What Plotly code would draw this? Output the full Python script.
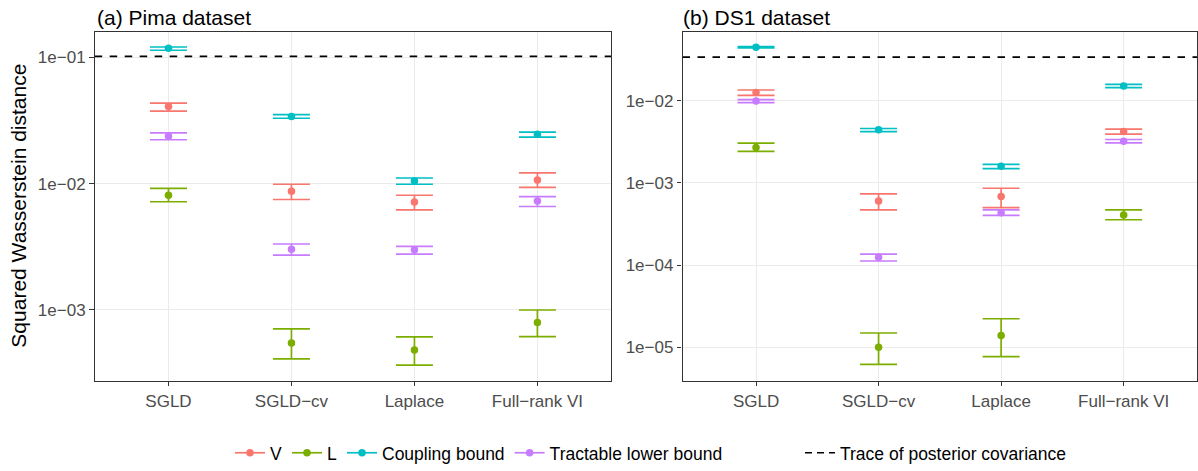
import plotly.graph_objects as go

categories = ["SGLD", "SGLD\u2212cv", "Laplace", "Full\u2212rank VI"]
series_names = ["V", "L", "Coupling bound", "Tractable lower bound"]
series_colors = ["#F8766D", "#7CAE00", "#00BFC4", "#C77CFF"]

# Panel (a) Pima dataset
pima_V_mean = [0.0408, 0.0087, 0.00716, 0.0107]
pima_V_lo = [0.0376, 0.0075, 0.0062, 0.00936]
pima_V_hi = [0.0434, 0.0099, 0.0081, 0.0122]
pima_L_mean = [0.0081, 0.000547, 0.000482, 0.000797]
pima_L_lo = [0.0072, 0.00041, 0.000366, 0.000616]
pima_L_hi = [0.0092, 0.000708, 0.000612, 0.0010]
pima_C_mean = [0.118, 0.0341, 0.0105, 0.0246]
pima_C_lo = [0.114, 0.0330, 0.0099, 0.0234]
pima_C_hi = [0.121, 0.0352, 0.0111, 0.0256]
pima_T_mean = [0.0238, 0.00303, 0.0030, 0.00731]
pima_T_lo = [0.0223, 0.00272, 0.00277, 0.0066]
pima_T_hi = [0.0253, 0.00333, 0.00319, 0.0079]
pima_trace = 0.102

# Panel (b) DS1 dataset
ds1_V_mean = [0.0126, 0.000601, 0.000684, 0.00423]
ds1_V_lo = [0.0116, 0.00047, 0.000501, 0.00393]
ds1_V_hi = [0.0135, 0.000735, 0.00086, 0.00451]
ds1_L_mean = [0.0027, 1.0e-5, 1.39e-5, 0.000406]
ds1_L_lo = [0.00242, 6.2e-6, 7.7e-6, 0.000356]
ds1_L_hi = [0.00304, 1.49e-5, 2.22e-5, 0.00047]
ds1_C_mean = [0.0446, 0.00443, 0.00159, 0.0151]
ds1_C_lo = [0.0438, 0.00420, 0.00149, 0.0144]
ds1_C_hi = [0.0455, 0.00459, 0.00168, 0.0158]
ds1_T_mean = [0.0099, 0.000124, 0.000433, 0.00321]
ds1_T_lo = [0.0095, 0.000112, 0.000402, 0.00307]
ds1_T_hi = [0.0103, 0.000136, 0.00047, 0.00337]
ds1_trace = 0.0339

pima_ticks = [1e-3, 1e-2, 1e-1]
pima_ticktext = ["1e\u221203", "1e\u221202", "1e\u221201"]
ds1_ticks = [1e-5, 1e-4, 1e-3, 1e-2]
ds1_ticktext = ["1e\u221205", "1e\u221204", "1e\u221203", "1e\u221202"]

FONT = "Liberation Sans, Arial, Helvetica, sans-serif"
W, H = 1198, 471

panels = [
    dict(xa="x", ya="y", series=[(pima_V_mean, pima_V_lo, pima_V_hi),
                                 (pima_L_mean, pima_L_lo, pima_L_hi),
                                 (pima_C_mean, pima_C_lo, pima_C_hi),
                                 (pima_T_mean, pima_T_lo, pima_T_hi)],
         trace=pima_trace, hx="x3"),
    dict(xa="x2", ya="y2", series=[(ds1_V_mean, ds1_V_lo, ds1_V_hi),
                                   (ds1_L_mean, ds1_L_lo, ds1_L_hi),
                                   (ds1_C_mean, ds1_C_lo, ds1_C_hi),
                                   (ds1_T_mean, ds1_T_lo, ds1_T_hi)],
         trace=ds1_trace, hx="x4"),
]

fig = go.Figure()

for p in panels:
    # dashed reference line spanning panel width on overlay linear x-axis
    fig.add_trace(go.Scatter(
        x=[0, 1], y=[p["trace"], p["trace"]], xaxis=p["hx"], yaxis=p["ya"],
        mode="lines", line=dict(color="black", width=1.6, dash="7.5px,7.5px"),
        showlegend=False, hoverinfo="skip"))
    for (mean, lo, hi), name, col in zip(p["series"], series_names, series_colors):
        fig.add_trace(go.Scatter(
            x=categories, y=mean, xaxis=p["xa"], yaxis=p["ya"],
            mode="markers", marker=dict(color=col, size=7.5),
            error_y=dict(type="data", symmetric=False,
                         array=[h - m for h, m in zip(hi, mean)],
                         arrayminus=[m - l for m, l in zip(mean, lo)],
                         color=col, thickness=1.7, width=18.5),
            showlegend=False, name=name))

# legend entries
for name, col in zip(series_names, series_colors):
    fig.add_trace(go.Scatter(x=[None], y=[None], mode="lines+markers", name=name,
                             line=dict(color=col, width=1.7), marker=dict(color=col, size=7.5),
                             legend="legend"))
fig.add_trace(go.Scatter(x=[None], y=[None], mode="lines", name="Trace of posterior covariance",
                         line=dict(color="black", width=1.6, dash="7px,5px"), legend="legend2"))

ydom = [1 - 388 / H, 1 - 32.3 / H]
xdom_a = [94.7 / W, 611.2 / W]
xdom_b = [682.5 / W, 1197.2 / W]

axis_common = dict(showline=True, mirror=True, linecolor="#333333", linewidth=1.4,
                   ticks="outside", ticklen=4.5, tickwidth=1.3, tickcolor="#333333",
                   showgrid=True, gridcolor="#EBEBEB", gridwidth=1.3, zeroline=False,
                   tickfont=dict(family=FONT, size=17, color="#4D4D4D"), automargin=False)

fig.update_layout(
    width=W, height=H, margin=dict(l=0, r=0, t=0, b=0),
    paper_bgcolor="white", plot_bgcolor="white",
    font=dict(family=FONT, color="black"),
    xaxis=dict(domain=xdom_a, anchor="y", type="category", categoryorder="array",
               categoryarray=categories, range=[-0.6, 3.6], **axis_common),
    yaxis=dict(domain=ydom, anchor="x", type="log", range=[-3.559, -0.796],
               tickvals=pima_ticks, ticktext=pima_ticktext, **axis_common),
    xaxis2=dict(domain=xdom_b, anchor="y2", type="category", categoryorder="array",
                categoryarray=categories, range=[-0.6, 3.6], **axis_common),
    yaxis2=dict(domain=ydom, anchor="x2", type="log", range=[-5.406, -1.160],
                tickvals=ds1_ticks, ticktext=ds1_ticktext, **axis_common),
    xaxis3=dict(domain=xdom_a, anchor="y", overlaying="x", range=[0, 1], visible=False),
    xaxis4=dict(domain=xdom_b, anchor="y2", overlaying="x2", range=[0, 1], visible=False),
    legend=dict(orientation="h", x=230 / W, xanchor="left", y=1 - 461.7 / H, yanchor="middle",
                font=dict(family=FONT, size=17.5, color="black"), bgcolor="rgba(0,0,0,0)",
                borderwidth=0, itemclick=False),
    legend2=dict(orientation="h", x=800 / W, xanchor="left", y=1 - 461.7 / H, yanchor="middle",
                 font=dict(family=FONT, size=17.5, color="black"), bgcolor="rgba(0,0,0,0)",
                 borderwidth=0, itemclick=False),
    showlegend=True,
    annotations=[
        dict(text="(a) Pima dataset", x=94.7 / W, y=1 - 17.5 / H, xref="paper", yref="paper",
             xanchor="left", yanchor="middle", showarrow=False,
             font=dict(family=FONT, size=21, color="black")),
        dict(text="(b) DS1 dataset", x=681.5 / W, y=1 - 17.5 / H, xref="paper", yref="paper",
             xanchor="left", yanchor="middle", showarrow=False,
             font=dict(family=FONT, size=21, color="black")),
        dict(text="Squared Wasserstein distance", x=18.5 / W, y=(ydom[0] + ydom[1]) / 2,
             xref="paper", yref="paper", xanchor="center", yanchor="middle", textangle=-90,
             showarrow=False, font=dict(family=FONT, size=21, color="black")),
    ],
)

fig.write_html("out.html")
